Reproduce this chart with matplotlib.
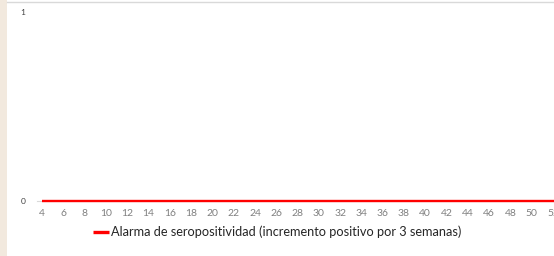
import matplotlib.pyplot as plt
from matplotlib.patches import Rectangle

# semanas epidemiologicas y valores de la alarma
semanas = list(range(4, 54))
alarma = [0] * len(semanas)
etiquetas_x = list(range(4, 54, 2))
etiquetas_y = [0, 1]
serie = 'Alarma de seropositividad (incremento positivo por 3 semanas)'

plt.rcParams['font.family'] = ['Lato', 'DejaVu Sans']

W, H = 554, 256
fig = plt.figure(figsize=(W / 100, H / 100), dpi=100)

# franja beige a la izquierda y borde superior
fig.patches.append(Rectangle((0, 0), 7 / W, 1, transform=fig.transFigure,
                             facecolor='#f2e9de', edgecolor='none', zorder=0))
fig.lines.append(plt.Line2D([7 / W, 1], [1 - 1.5 / H, 1 - 1.5 / H],
                            transform=fig.transFigure, color='#d9d9d9', lw=1))

x0 = 36.7
x1 = 569
ax = fig.add_axes([x0 / W, 55 / H, (x1 - x0) / W, (201 - 12) / H])
ax.plot(semanas, alarma, color='#ff0000', lw=1.7, solid_capstyle='butt',
        label=serie, clip_on=False, zorder=5)

ax.set_xlim(3.5, 53.5)
ax.set_ylim(0, 1)
ax.set_xticks(etiquetas_x)
ax.set_xticklabels([str(s) for s in etiquetas_x])
ax.set_yticks(etiquetas_y)
ax.tick_params(axis='x', length=0, pad=6, labelsize=7.5, labelcolor='#808080')
ax.tick_params(axis='y', length=0, pad=8, labelsize=6, labelcolor='#404040')
for s in ['top', 'right', 'left']:
    ax.spines[s].set_visible(False)
ax.spines['bottom'].set_color('#d9d9d9')
ax.spines['bottom'].set_linewidth(0.8)
ax.spines['bottom'].set_zorder(1)
ax.patch.set_alpha(0)

leg = fig.legend(loc='center', bbox_to_anchor=(0.5, 1 - 232 / H), frameon=False,
                 fontsize=9.2, handlelength=1.3, handletextpad=0.1,
                 labelcolor='#262626')
for h in leg.get_lines():
    h.set_linewidth(2.4)

fig.savefig('out.png', dpi=100)
